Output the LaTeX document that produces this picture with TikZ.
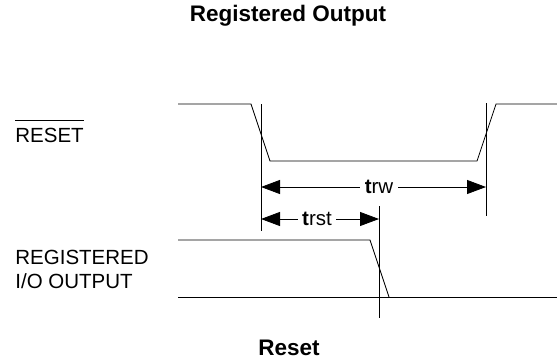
\documentclass[tikz,border=0pt]{standalone}
\usepackage{fontspec}
\setmainfont{Liberation Sans}
\usetikzlibrary{arrows.meta}
\begin{document}
\begin{tikzpicture}[x=1pt,y=-1pt,line width=.8pt,>={Triangle[length=19pt,width=14pt]},
  font=\fontsize{20.5}{24}\selectfont,
  lbl/.style={inner sep=0pt,anchor=base west,align=left},
  ttl/.style={inner sep=0pt,anchor=base,font=\fontsize{22.5}{27}\selectfont\bfseries},
  tlab/.style={fill=white,inner xsep=4.5pt,inner ysep=1pt}]
  \useasboundingbox (0,0) rectangle (557,360);
  % RESET waveform
  \coordinate (r0) at (178,104);
  \coordinate (r1) at (251,104);
  \coordinate (r2) at (270,161);
  \coordinate (r3) at (477,161);
  \coordinate (r4) at (496,104);
  \coordinate (r5) at (557,104);
  \draw (r0)--(r1)--(r2)--(r3)--(r4)--(r5);
  % registered output waveform
  \coordinate (o0) at (178,240);
  \coordinate (o1) at (370,240);
  \coordinate (o2) at (389,297);
  \coordinate (l0) at (178,297);
  \coordinate (l1) at (557,297);
  \draw (o0)--(o1)--(o2);
  \draw (l0)--(l1);
  % reference lines
  \coordinate (va0) at (261,104); \coordinate (va1) at (261,231);
  \coordinate (vb0) at (486,103); \coordinate (vb1) at (486,216);
  \coordinate (vc0) at (379,206); \coordinate (vc1) at (379,318);
  \draw (va0)--(va1); \draw (vb0)--(vb1); \draw (vc0)--(vc1);
  % timing arrows
  \coordinate (trwl) at (261,187); \coordinate (trwr) at (486,187);
  \coordinate (trstl) at (261,219); \coordinate (trstr) at (379,219);
  \draw[<->] (trwl)--(trwr);
  \draw[<->] (trstl)--(trstr);
  \node[tlab] (trw) at (379,187) {\textbf{t}rw};
  \node[tlab] (trst) at (317,219) {\textbf{t}rst};
  % labels
  \node[lbl] (rst) at (15,142) {RESET};
  \draw ([yshift=7pt]rst.north west)--([yshift=7pt]rst.north east);
  \node[lbl,anchor=north west,text depth=0pt] (reg) at (15,250) {REGISTERED\\I/O OUTPUT};
  \node[ttl] (top) at (288,21) {Registered Output};
  \node[ttl] (bot) at (289,355) {Reset};
\end{tikzpicture}
\end{document}
